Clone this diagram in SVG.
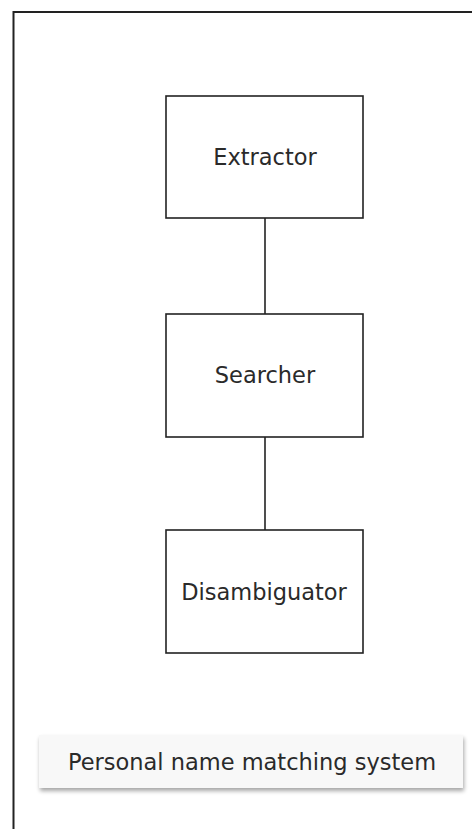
<svg xmlns="http://www.w3.org/2000/svg" width="472" height="829" viewBox="0 0 472 829">
  <style>
    .frame { fill: none; stroke: #222; stroke-width: 2; }
    .node rect { fill: #fff; stroke: #222; stroke-width: 1.6; }
    .label { font-family: "DejaVu Sans", sans-serif; font-size: 22.5px; fill: #2a2a2a; text-anchor: middle; }
    .edge { stroke: #222; stroke-width: 1.6; fill: none; }
    .caption rect { fill: #f8f8f8; }
  </style>
  <defs>
    <filter id="shadow" x="-10%" y="-30%" width="120%" height="180%">
      <feGaussianBlur in="SourceAlpha" stdDeviation="2"/>
      <feOffset dx="1" dy="3" result="blur"/>
      <feComponentTransfer><feFuncA type="linear" slope="0.35"/></feComponentTransfer>
      <feMerge><feMergeNode/><feMergeNode in="SourceGraphic"/></feMerge>
    </filter>
  </defs>
  <rect width="472" height="829" fill="#fff"/>
  <!-- outer panel, running past the right and bottom edges -->
  <rect class="frame" x="13.5" y="12" width="470" height="830"/>

  <g id="connectors">
    <line class="edge" x1="265" y1="218" x2="265" y2="314"/>
    <line class="edge" x1="265" y1="437" x2="265" y2="530"/>
  </g>

  <g id="extractor" class="node">
    <rect x="166" y="96" width="197" height="122"/>
    <text class="label" x="265" y="165">Extractor</text>
  </g>
  <g id="searcher" class="node">
    <rect x="166" y="314" width="197" height="123"/>
    <text class="label" x="265" y="383">Searcher</text>
  </g>
  <g id="disambiguator" class="node">
    <rect x="166" y="530" width="197" height="123"/>
    <text class="label" x="264" y="600">Disambiguator</text>
  </g>

  <g id="caption" class="caption">
    <rect x="39" y="735" width="424" height="53" filter="url(#shadow)"/>
    <text class="label" x="252" y="770">Personal name matching system</text>
  </g>
</svg>
